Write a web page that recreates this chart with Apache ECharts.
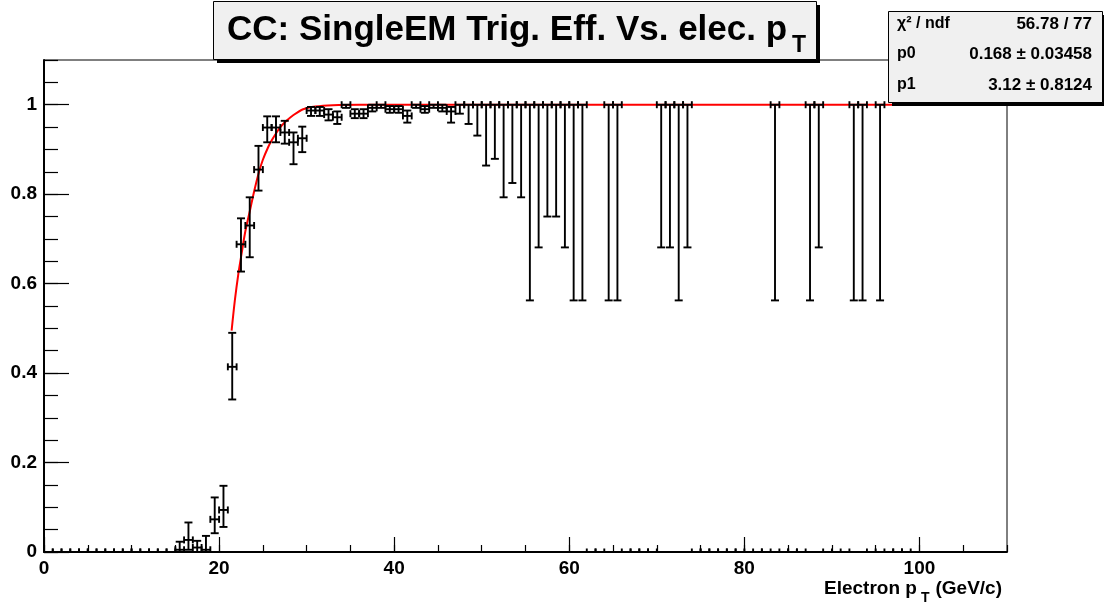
<!DOCTYPE html>
<html><head><meta charset="utf-8">
<script src="https://cdn.jsdelivr.net/npm/echarts@6/dist/echarts.min.js"></script>
<style>html,body{margin:0;padding:0;background:#fff}#c{width:1104px;height:607px}</style>
</head><body><div id="c"></div>
<script>
// ---- data ----
const titleMain = "CC: SingleEM Trig. Eff. Vs. elec. p";
const titleSub = "T";
const xTitleMain = "Electron p";
const xTitleSub = "T";
const xTitleUnit = "(GeV/c)";
const statLabels = ["\u03C7\u00B2 / ndf", "p0", "p1"];
const statValues = ["56.78 / 77", "0.168 \u00B1 0.03458", "3.12 \u00B1 0.8124"];

const binHalf = 0.5; // x error (half bin width)
const ptX  = [15.5,16.5,17.5,18.5,19.5,20.5,21.5,22.5,23.5,24.5,25.5,26.5,27.5,28.5,29.5,30.5,31.5,32.5,33.5,34.5,35.5,36.5,37.5,38.5,39.5,40.5,41.5,42.5,43.5,44.5,45.5,46.5,47.5,48.5,49.5,50.5,51.5,52.5,53.5,54.5,55.5,56.5,57.5,58.5,59.5,60.5,61.5,64.5,65.5,70.5,71.5,72.5,73.5,83.5,87.5,88.5,92.5,93.5,95.5];
const ptY  = [0.005,0.027,0.010,0.005,0.073,0.094,0.414,0.688,0.730,0.855,0.949,0.949,0.938,0.916,0.925,0.987,0.987,0.978,0.972,1.000,0.980,0.980,0.993,1.000,0.990,0.990,0.975,1.000,0.990,1.000,0.993,0.985,1,1,1,1,1,1,1,1,1,1,1,1,1,1,1,1,1,1,1,1,1,1,1,1,1,1,1];
const ptLo = [0,0.005,0,0,0.042,0.056,0.341,0.627,0.659,0.808,0.916,0.916,0.913,0.867,0.894,0.975,0.975,0.965,0.957,0.993,0.970,0.970,0.985,0.993,0.982,0.982,0.960,0.993,0.982,0.993,0.985,0.960,0.980,0.957,0.931,0.864,0.879,0.793,0.825,0.793,0.5625,0.681,0.75,0.75,0.681,0.5625,0.5625,0.5625,0.5625,0.681,0.681,0.5625,0.681,0.5625,0.5625,0.681,0.5625,0.5625,0.5625];
const ptHi = [0.023,0.066,0.025,0.036,0.122,0.148,0.490,0.746,0.793,0.908,0.974,0.974,0.964,0.938,0.951,0.995,0.995,0.990,0.985,1.000,0.990,0.990,1.000,1.000,0.997,0.997,0.987,1.000,0.997,1.000,1.000,0.995,1,1,1,1,1,1,1,1,1,1,1,1,1,1,1,1,1,1,1,1,1,1,1,1,1,1,1];
// bins with zero efficiency (drawn on the axis)
const zeroX = [0.5,1.5,2.5,3.5,4.5,5.5,6.5,7.5,8.5,9.5,10.5,11.5,12.5,13.5,14.5,62.5,63.5,66.5,67.5,68.5,69.5,74.5,75.5,76.5,77.5,78.5,79.5,81.5,82.5,84.5,85.5,86.5,89.5,91.5,94.5,96.5,97.5,98.5];
// fit curve
const fitX = [21.43,21.8,22.2,22.57,23.0,23.52,24.0,24.55,25.0,25.6,26.0,26.57,27.0,27.7,28.5,29.6,31,33,36,45,60,80,100];
const fitY = [0.495,0.5625,0.622,0.667,0.717,0.763,0.806,0.849,0.877,0.905,0.920,0.938,0.950,0.964,0.977,0.990,0.996,0.999,1.0,1.0,1.0,1.0,1.0];

// ---- drawing ----
const FONT = '"Liberation Sans", Arial, Helvetica, sans-serif';
const ctx = document.createElement('canvas').getContext('2d');
function tw(t, s){ ctx.font = 'bold ' + s + 'px ' + FONT; return ctx.measureText(t).width; }

const errData = ptX.map((x,i)=>[x, ptY[i], ptLo[i], ptHi[i]]).concat(zeroX.map(x=>[x,0,0,0]));

function renderErr(params, api){
  const x=api.value(0), y=api.value(1), lo=api.value(2), hi=api.value(3);
  const c=api.coord([x,y]), l=api.coord([x-binHalf,y]), r=api.coord([x+binHalf,y]);
  const pl=api.coord([x,lo]), ph=api.coord([x,hi]);
  const st={stroke:'#000', lineWidth:1.9};
  const capH=3.5, capV=4;
  const ch=[];
  ch.push({type:'line', shape:{x1:l[0],y1:c[1],x2:r[0],y2:c[1]}, style:st});
  ch.push({type:'line', shape:{x1:l[0],y1:c[1]-capH,x2:l[0],y2:c[1]+capH}, style:st});
  ch.push({type:'line', shape:{x1:r[0],y1:c[1]-capH,x2:r[0],y2:c[1]+capH}, style:st});
  if (hi>y){
    ch.push({type:'line', shape:{x1:c[0],y1:c[1],x2:c[0],y2:ph[1]}, style:st});
    ch.push({type:'line', shape:{x1:c[0]-capV,y1:ph[1],x2:c[0]+capV,y2:ph[1]}, style:st});
  }
  if (lo<y){
    ch.push({type:'line', shape:{x1:c[0],y1:c[1],x2:c[0],y2:pl[1]}, style:st});
    ch.push({type:'line', shape:{x1:c[0]-capV,y1:pl[1],x2:c[0]+capV,y2:pl[1]}, style:st});
  }
  return {type:'group', children:ch};
}

const gridPos = {left:44, right:97, top:60, bottom:55};
const labelStyle = {color:'#000', fontFamily:FONT, fontWeight:'bold', fontSize:19};

const tSize = 35, tX = 227;
const tW = tw(titleMain, tSize);
const axSize = 19;
const unitW = tw(xTitleUnit, axSize);
const subW = tw(xTitleSub, 14);
const axRight = 1002;
const subX = axRight - unitW - 6 - subW;
const mainRight = subX - 4;

const sTop = 11, sLeft = 888, sW = 214, sH = 91;
const rows = [24, 54, 85];

const graphics = [
  // title box
  {type:'rect', z:100, shape:{x:217, y:5, width:603, height:58}, style:{fill:'#000'}},
  {type:'rect', z:101, shape:{x:213.5, y:1.5, width:603, height:58}, style:{fill:'#f0f0f0', stroke:'#000', lineWidth:1}},
  {type:'text', z:102, x:tX, y:30, style:{text:titleMain, font:'bold '+tSize+'px '+FONT, fill:'#000', textVerticalAlign:'middle', textAlign:'left'}},
  {type:'text', z:102, x:tX+tW+5, y:46, style:{text:titleSub, font:'bold 23px '+FONT, fill:'#000', textVerticalAlign:'middle', textAlign:'left'}},
  // stats box
  {type:'rect', z:100, shape:{x:sLeft+4, y:sTop+4, width:sW, height:sH}, style:{fill:'#000'}},
  {type:'rect', z:101, shape:{x:sLeft+0.5, y:sTop+0.5, width:sW, height:sH}, style:{fill:'#f0f0f0', stroke:'#000', lineWidth:1}},
  // x axis title
  {type:'text', z:102, x:mainRight, y:589, style:{text:xTitleMain, font:'bold '+axSize+'px '+FONT, fill:'#000', textVerticalAlign:'middle', textAlign:'right'}},
  {type:'text', z:102, x:subX, y:598, style:{text:xTitleSub, font:'bold 14px '+FONT, fill:'#000', textVerticalAlign:'middle', textAlign:'left'}},
  {type:'text', z:102, x:axRight, y:589, style:{text:xTitleUnit, font:'bold '+axSize+'px '+FONT, fill:'#000', textVerticalAlign:'middle', textAlign:'right'}}
];
statLabels.forEach((t,i)=>{
  graphics.push({type:'text', z:102, x:sLeft+9, y:rows[i], style:{text:t, font:'bold 16px '+FONT, fill:'#000', textVerticalAlign:'middle', textAlign:'left'}});
  graphics.push({type:'text', z:102, x:sLeft+sW-10, y:rows[i], style:{text:statValues[i], font:'bold 17px '+FONT, fill:'#000', textVerticalAlign:'middle', textAlign:'right'}});
});

const chart = echarts.init(document.getElementById('c'), null, {renderer:'canvas'});
chart.setOption({
  animation:false,
  backgroundColor:'#fff',
  grid:[
    Object.assign({show:true, borderColor:'#000', borderWidth:1, backgroundColor:'transparent'}, gridPos),
    Object.assign({show:false}, gridPos)
  ],
  xAxis:[
    {gridIndex:0, type:'value', min:0, max:110, interval:20,
     axisLine:{show:true, onZero:false, lineStyle:{color:'#000', width:2}},
     axisTick:{show:true, inside:true, length:15, lineStyle:{color:'#000', width:1.2}},
     axisLabel:Object.assign({margin:7, showMaxLabel:false}, labelStyle),
     splitLine:{show:false}},
    {gridIndex:1, type:'value', min:0, max:110, interval:5,
     axisLine:{show:false, onZero:false},
     axisTick:{show:true, inside:true, length:7, lineStyle:{color:'#000', width:1.2}},
     axisLabel:{show:false}, splitLine:{show:false}}
  ],
  yAxis:[
    {gridIndex:0, type:'value', min:0, max:1.1, interval:0.2,
     axisLine:{show:true, onZero:false, lineStyle:{color:'#000', width:2}},
     axisTick:{show:true, inside:true, length:25, lineStyle:{color:'#000', width:1.2}},
     axisLabel:Object.assign({margin:7, showMaxLabel:false}, labelStyle),
     splitLine:{show:false}},
    {gridIndex:1, type:'value', min:0, max:1.1, interval:0.05,
     axisLine:{show:false, onZero:false},
     axisTick:{show:true, inside:true, length:14, lineStyle:{color:'#000', width:1.2}},
     axisLabel:{show:false}, splitLine:{show:false}}
  ],
  series:[
    {type:'line', xAxisIndex:0, yAxisIndex:0, data:fitX.map((x,i)=>[x,fitY[i]]),
     showSymbol:false, smooth:0.3, z:2,
     lineStyle:{color:'#ff0000', width:2}},
    {type:'custom', xAxisIndex:0, yAxisIndex:0, data:errData, renderItem:renderErr, clip:true, z:3}
  ],
  graphic:graphics
});
</script></body></html>
